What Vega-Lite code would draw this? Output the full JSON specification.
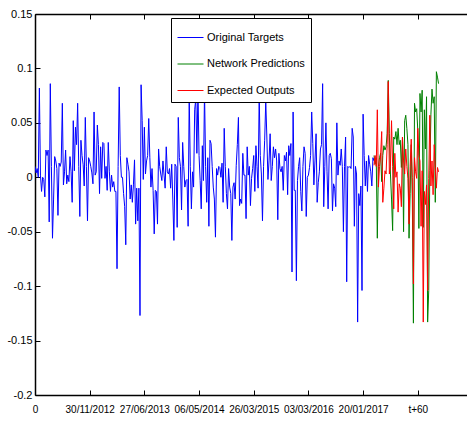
{
"$schema": "https://vega.github.io/schema/vega-lite/v6.json",
"width": 432, "height": 381,
"autosize": {"type": "none"},
"padding": {"left": 35, "top": 14, "right": 0, "bottom": 30},
"background": "white",
"datasets": {
"orig": [
{"t":0,"v":0.010},{"t":1,"v":0.004},{"t":2,"v":0.008},{"t":3,"v":0.000},{"t":4,"v":0.082},{"t":5,"v":0.002},{"t":6,"v":-0.013},{"t":7,"v":0.000},{"t":8,"v":-0.002},{"t":9,"v":-0.018},
{"t":10,"v":0.025},{"t":11,"v":0.020},{"t":12,"v":0.025},{"t":13,"v":-0.041},{"t":14,"v":0.086},{"t":15,"v":0.010},{"t":16,"v":-0.056},{"t":17,"v":-0.020},{"t":18,"v":0.019},{"t":19,"v":0.015},
{"t":20,"v":0.008},{"t":21,"v":-0.035},{"t":22,"v":0.013},{"t":23,"v":0.010},{"t":24,"v":0.014},{"t":25,"v":0.068},{"t":26,"v":-0.007},{"t":27,"v":0.005},{"t":28,"v":0.025},{"t":29,"v":-0.006},
{"t":30,"v":0.002},{"t":31,"v":-0.004},{"t":32,"v":0.019},{"t":33,"v":0.005},{"t":34,"v":-0.023},{"t":35,"v":0.052},{"t":36,"v":0.006},{"t":37,"v":0.046},{"t":38,"v":0.030},{"t":39,"v":0.068},
{"t":40,"v":0.010},{"t":41,"v":-0.036},{"t":42,"v":0.034},{"t":43,"v":0.020},{"t":44,"v":0.012},{"t":45,"v":-0.008},{"t":46,"v":0.055},{"t":47,"v":0.010},{"t":48,"v":-0.040},{"t":49,"v":0.018},
{"t":50,"v":0.015},{"t":51,"v":0.010},{"t":52,"v":0.004},{"t":53,"v":-0.006},{"t":54,"v":0.060},{"t":55,"v":0.002},{"t":56,"v":0.005},{"t":57,"v":0.048},{"t":58,"v":0.030},{"t":59,"v":-0.015},
{"t":60,"v":0.028},{"t":61,"v":-0.001},{"t":62,"v":0.032},{"t":63,"v":0.031},{"t":64,"v":-0.001},{"t":65,"v":0.010},{"t":66,"v":-0.012},{"t":67,"v":0.032},{"t":68,"v":0.005},{"t":69,"v":-0.013},
{"t":70,"v":0.002},{"t":71,"v":-0.009},{"t":72,"v":-0.004},{"t":73,"v":-0.013},{"t":74,"v":-0.013},{"t":75,"v":-0.084},{"t":76,"v":0.010},{"t":77,"v":0.083},{"t":78,"v":0.020},{"t":79,"v":0.000},
{"t":80,"v":0.000},{"t":81,"v":-0.015},{"t":82,"v":-0.027},{"t":83,"v":-0.062},{"t":84,"v":0.018},{"t":85,"v":0.012},{"t":86,"v":0.005},{"t":87,"v":-0.020},{"t":88,"v":-0.007},{"t":89,"v":-0.023},
{"t":90,"v":-0.007},{"t":91,"v":0.016},{"t":92,"v":-0.043},{"t":93,"v":-0.010},{"t":94,"v":-0.040},{"t":95,"v":-0.010},{"t":96,"v":-0.127},{"t":97,"v":0.085},{"t":98,"v":0.052},{"t":99,"v":-0.002},
{"t":100,"v":0.046},{"t":101,"v":0.003},{"t":102,"v":0.015},{"t":103,"v":0.020},{"t":104,"v":0.054},{"t":105,"v":0.018},{"t":106,"v":-0.009},{"t":107,"v":0.008},{"t":108,"v":-0.012},{"t":109,"v":-0.052},
{"t":110,"v":-0.012},{"t":111,"v":-0.013},{"t":112,"v":-0.043},{"t":113,"v":0.026},{"t":114,"v":0.010},{"t":115,"v":0.003},{"t":116,"v":-0.003},{"t":117,"v":0.015},{"t":118,"v":0.002},{"t":119,"v":-0.010},
{"t":120,"v":0.028},{"t":121,"v":0.005},{"t":122,"v":0.003},{"t":123,"v":0.008},{"t":124,"v":-0.010},{"t":125,"v":0.012},{"t":126,"v":-0.020},{"t":127,"v":-0.058},{"t":128,"v":0.012},{"t":129,"v":0.010},
{"t":130,"v":-0.046},{"t":131,"v":0.055},{"t":132,"v":0.018},{"t":133,"v":0.010},{"t":134,"v":-0.030},{"t":135,"v":0.032},{"t":136,"v":0.010},{"t":137,"v":-0.009},{"t":138,"v":-0.003},{"t":139,"v":-0.002},
{"t":140,"v":-0.045},{"t":141,"v":0.075},{"t":142,"v":0.010},{"t":143,"v":-0.029},{"t":144,"v":0.005},{"t":145,"v":-0.009},{"t":146,"v":0.062},{"t":147,"v":0.072},{"t":148,"v":0.022},{"t":149,"v":0.080},
{"t":150,"v":0.020},{"t":151,"v":-0.003},{"t":152,"v":-0.029},{"t":153,"v":0.029},{"t":154,"v":-0.003},{"t":155,"v":0.080},{"t":156,"v":0.010},{"t":157,"v":-0.023},{"t":158,"v":0.018},{"t":159,"v":-0.045},
{"t":160,"v":0.034},{"t":161,"v":0.031},{"t":162,"v":0.010},{"t":163,"v":-0.009},{"t":164,"v":-0.020},{"t":165,"v":-0.055},{"t":166,"v":0.008},{"t":167,"v":0.002},{"t":168,"v":0.010},{"t":169,"v":0.009},
{"t":170,"v":0.000},{"t":171,"v":0.013},{"t":172,"v":-0.023},{"t":173,"v":0.045},{"t":174,"v":0.010},{"t":175,"v":-0.015},{"t":176,"v":-0.029},{"t":177,"v":0.008},{"t":178,"v":-0.009},{"t":179,"v":-0.015},
{"t":180,"v":-0.058},{"t":181,"v":-0.009},{"t":182,"v":-0.005},{"t":183,"v":-0.020},{"t":184,"v":0.011},{"t":185,"v":0.030},{"t":186,"v":0.055},{"t":187,"v":-0.026},{"t":188,"v":-0.020},{"t":189,"v":-0.024},
{"t":190,"v":0.022},{"t":191,"v":0.002},{"t":192,"v":0.002},{"t":193,"v":-0.038},{"t":194,"v":0.028},{"t":195,"v":0.002},{"t":196,"v":0.010},{"t":197,"v":-0.026},{"t":198,"v":-0.001},{"t":199,"v":0.008},
{"t":200,"v":0.020},{"t":201,"v":-0.013},{"t":202,"v":0.029},{"t":203,"v":0.010},{"t":204,"v":-0.010},{"t":205,"v":0.075},{"t":206,"v":0.020},{"t":207,"v":0.003},{"t":208,"v":-0.040},{"t":209,"v":0.010},
{"t":210,"v":0.034},{"t":211,"v":0.070},{"t":212,"v":0.037},{"t":213,"v":-0.002},{"t":214,"v":0.015},{"t":215,"v":0.040},{"t":216,"v":-0.003},{"t":217,"v":0.010},{"t":218,"v":0.028},{"t":219,"v":0.018},
{"t":220,"v":0.026},{"t":221,"v":0.015},{"t":222,"v":-0.039},{"t":223,"v":0.022},{"t":224,"v":0.008},{"t":225,"v":0.005},{"t":226,"v":0.010},{"t":227,"v":-0.012},{"t":228,"v":0.020},{"t":229,"v":0.015},
{"t":230,"v":0.023},{"t":231,"v":-0.016},{"t":232,"v":0.029},{"t":233,"v":0.020},{"t":234,"v":0.031},{"t":235,"v":-0.087},{"t":236,"v":0.060},{"t":237,"v":-0.012},{"t":238,"v":-0.012},{"t":239,"v":-0.095},
{"t":240,"v":-0.003},{"t":241,"v":0.010},{"t":242,"v":0.018},{"t":243,"v":-0.013},{"t":244,"v":-0.031},{"t":245,"v":0.010},{"t":246,"v":0.028},{"t":247,"v":0.022},{"t":248,"v":-0.036},{"t":249,"v":0.000},
{"t":250,"v":0.002},{"t":251,"v":0.009},{"t":252,"v":0.020},{"t":253,"v":0.060},{"t":254,"v":0.031},{"t":255,"v":-0.007},{"t":256,"v":0.015},{"t":257,"v":0.040},{"t":258,"v":-0.023},{"t":259,"v":-0.005},
{"t":260,"v":0.005},{"t":261,"v":0.026},{"t":262,"v":0.030},{"t":263,"v":0.086},{"t":264,"v":-0.027},{"t":265,"v":0.010},{"t":266,"v":0.050},{"t":267,"v":0.005},{"t":268,"v":-0.029},{"t":269,"v":0.020},
{"t":270,"v":0.022},{"t":271,"v":0.017},{"t":272,"v":-0.031},{"t":273,"v":-0.006},{"t":274,"v":-0.010},{"t":275,"v":-0.027},{"t":276,"v":0.050},{"t":277,"v":0.002},{"t":278,"v":0.015},{"t":279,"v":0.011},
{"t":280,"v":0.026},{"t":281,"v":0.010},{"t":282,"v":-0.050},{"t":283,"v":0.010},{"t":284,"v":0.037},{"t":285,"v":-0.096},{"t":286,"v":0.010},{"t":287,"v":0.009},{"t":288,"v":0.010},{"t":289,"v":0.008},
{"t":290,"v":0.045},{"t":291,"v":0.037},{"t":292,"v":-0.045},{"t":293,"v":0.010},{"t":294,"v":0.003},{"t":295,"v":-0.133},{"t":296,"v":-0.015},{"t":297,"v":-0.026},{"t":298,"v":-0.008},{"t":299,"v":-0.104},
{"t":300,"v":0.058},{"t":301,"v":0.020},{"t":302,"v":-0.008},{"t":303,"v":0.015},{"t":304,"v":-0.013},{"t":305,"v":0.020},{"t":306,"v":0.012},{"t":307,"v":0.005},{"t":308,"v":-0.008},{"t":309,"v":0.018},
{"t":310,"v":0.015}
],
"pred": [
{"t":310,"v":0.020},{"t":311,"v":0.012},{"t":312,"v":0.018},{"t":313,"v":-0.056},{"t":314,"v":0.010},{"t":315,"v":0.018},{"t":316,"v":0.022},{"t":317,"v":-0.004},{"t":318,"v":0.020},{"t":319,"v":0.029},
{"t":320,"v":0.025},{"t":321,"v":0.028},{"t":322,"v":0.040},{"t":323,"v":0.089},{"t":324,"v":0.040},{"t":325,"v":0.003},{"t":326,"v":-0.020},{"t":327,"v":-0.049},{"t":328,"v":0.037},{"t":329,"v":0.035},
{"t":330,"v":0.042},{"t":331,"v":0.030},{"t":332,"v":0.045},{"t":333,"v":0.030},{"t":334,"v":0.034},{"t":335,"v":0.009},{"t":336,"v":0.037},{"t":337,"v":-0.050},{"t":338,"v":0.052},{"t":339,"v":0.057},
{"t":340,"v":0.045},{"t":341,"v":0.030},{"t":342,"v":-0.056},{"t":343,"v":-0.015},{"t":344,"v":0.030},{"t":345,"v":-0.020},{"t":346,"v":-0.134},{"t":347,"v":0.068},{"t":348,"v":0.060},{"t":349,"v":0.063},
{"t":350,"v":0.043},{"t":351,"v":-0.047},{"t":352,"v":0.077},{"t":353,"v":0.060},{"t":354,"v":0.080},{"t":355,"v":-0.046},{"t":356,"v":0.062},{"t":357,"v":0.026},{"t":358,"v":0.074},{"t":359,"v":-0.133},
{"t":360,"v":-0.104},{"t":361,"v":0.006},{"t":362,"v":0.058},{"t":363,"v":0.081},{"t":364,"v":0.068},{"t":365,"v":0.074},{"t":366,"v":-0.023},{"t":367,"v":0.097},{"t":368,"v":0.092},{"t":369,"v":0.086}
],
"exp": [
{"t":310,"v":0.011},{"t":311,"v":0.020},{"t":312,"v":0.010},{"t":313,"v":0.062},{"t":314,"v":-0.009},{"t":315,"v":0.010},{"t":316,"v":0.020},{"t":317,"v":0.042},{"t":318,"v":-0.023},{"t":319,"v":-0.010},
{"t":320,"v":0.006},{"t":321,"v":0.003},{"t":322,"v":0.030},{"t":323,"v":0.088},{"t":324,"v":0.003},{"t":325,"v":0.010},{"t":326,"v":0.052},{"t":327,"v":0.010},{"t":328,"v":-0.029},{"t":329,"v":0.022},
{"t":330,"v":0.000},{"t":331,"v":0.005},{"t":332,"v":-0.032},{"t":333,"v":-0.006},{"t":334,"v":-0.010},{"t":335,"v":-0.027},{"t":336,"v":0.037},{"t":337,"v":0.015},{"t":338,"v":0.003},{"t":339,"v":0.026},
{"t":340,"v":0.010},{"t":341,"v":-0.001},{"t":342,"v":-0.043},{"t":343,"v":0.010},{"t":344,"v":0.035},{"t":345,"v":0.000},{"t":346,"v":-0.098},{"t":347,"v":0.018},{"t":348,"v":0.005},{"t":349,"v":-0.001},
{"t":350,"v":0.045},{"t":351,"v":0.020},{"t":352,"v":0.015},{"t":353,"v":-0.045},{"t":354,"v":0.006},{"t":355,"v":-0.133},{"t":356,"v":-0.013},{"t":357,"v":-0.025},{"t":358,"v":-0.007},{"t":359,"v":-0.104},
{"t":360,"v":-0.001},{"t":361,"v":0.057},{"t":362,"v":-0.008},{"t":363,"v":0.015},{"t":364,"v":-0.016},{"t":365,"v":0.030},{"t":366,"v":0.010},{"t":367,"v":-0.010},{"t":368,"v":0.009},{"t":369,"v":0.005}
]
},
"layer": [
{"data": {"name": "orig"},
 "mark": {"type": "line", "strokeWidth": 1, "clip": true},
 "encoding": {
  "x": {"field": "t", "type": "quantitative", "scale": {"domain": [0, 395], "nice": false, "zero": false},
        "axis": {"orient": "bottom", "values": [0,50,100,150,200,250,300,350], "title": null,
                 "labelExpr": "['0','30/11/2012','27/06/2013','06/05/2014','26/03/2015','03/03/2016','20/01/2017','t+60'][round(datum.value/50)]",
                 "tickSize": -5, "labelPadding": 14, "labelFlush": false, "labelOverlap": false, "labelFontSize": 10}},
  "y": {"field": "v", "type": "quantitative", "scale": {"domain": [-0.2, 0.15], "nice": false, "zero": false},
        "axis": {"orient": "left", "values": [-0.2,-0.15,-0.1,-0.05,0,0.05,0.1,0.15], "title": null,
                 "labelExpr": "'' + datum.value", "tickSize": -5, "labelPadding": 8, "labelFlush": false, "labelOverlap": false, "labelFontSize": 11}},
  "color": {"datum": "Original Targets", "type": "nominal",
            "scale": {"domain": ["Original Targets", "Network Predictions", "Expected Outputs"], "range": ["#0000ff", "#008000", "#ff0000"]},
            "legend": {"orient": "none", "legendX": 136, "legendY": 4, "title": null, "fillColor": "white", "strokeColor": "black",
                       "padding": 6, "symbolType": "stroke", "symbolSize": 676, "symbolStrokeWidth": 1, "rowPadding": 7.5,
                       "labelOffset": 3, "labelFontSize": 11, "labelFont": "Liberation Sans, Arial, sans-serif", "labelColor": "black", "offset": 0}}
 }},
{"data": {"name": "pred"},
 "mark": {"type": "line", "strokeWidth": 1, "clip": true},
 "encoding": {
  "x": {"field": "t", "type": "quantitative",
        "axis": {"orient": "top", "values": [0,50,100,150,200,250,300,350], "title": null, "labels": false, "tickSize": -5}},
  "y": {"field": "v", "type": "quantitative", "axis": null},
  "color": {"datum": "Network Predictions", "type": "nominal"}
 }},
{"data": {"name": "exp"},
 "mark": {"type": "line", "strokeWidth": 1, "clip": true},
 "encoding": {
  "x": {"field": "t", "type": "quantitative", "axis": null},
  "y": {"field": "v", "type": "quantitative", "axis": null},
  "color": {"datum": "Expected Outputs", "type": "nominal"}
 }}
],
"resolve": {"axis": {"x": "independent", "y": "independent"}},
"config": {
 "view": {"stroke": null},
 "axis": {"grid": false, "domainColor": "black", "tickColor": "black", "labelColor": "black", "domainWidth": 1.5, "tickWidth": 1,
          "labelFont": "Liberation Sans, Arial, sans-serif", "labelFontSize": 12}
}
}
